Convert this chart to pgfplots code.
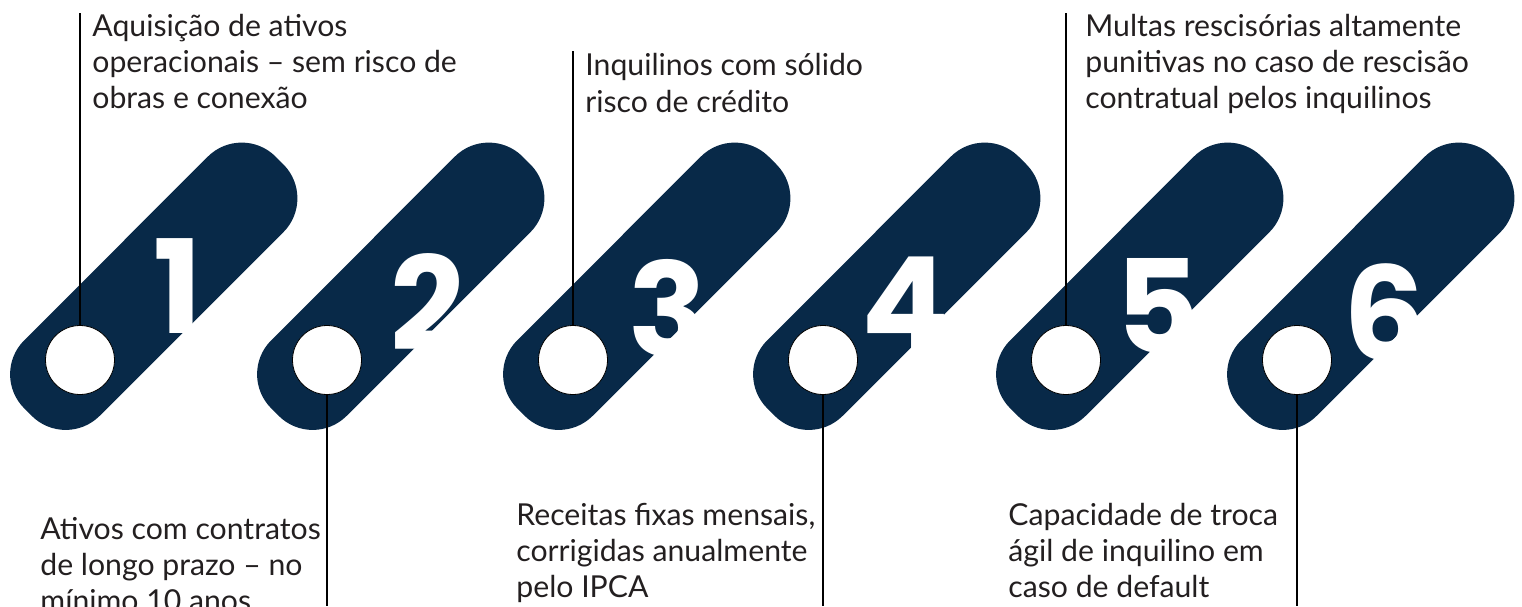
\documentclass[border=0pt]{standalone}
\usepackage{fontspec}
\setmainfont{Lato}
\newfontfamily\numfont{Poppins}[UprightFont=* Bold]
\usepackage{pgfplots}
\pgfplotsset{compat=1.18}
\definecolor{navy}{RGB}{8,41,72}
\definecolor{ink}{RGB}{35,31,32}

\newcommand{\txt}[3]{\node[anchor=base west, inner sep=0pt, text=ink,
  font=\fontsize{15.1}{18}\selectfont] at (axis cs:#1,#2) {#3};}
\newcommand{\num}[3]{\node[anchor=base, inner sep=0pt, text=white,
  font=\numfont\fontsize{65}{65}\selectfont] at (axis cs:#1,#2) {#3};}

\begin{document}
\begin{tikzpicture}
\begin{axis}[
    hide axis, scale only axis,
    x=0.5pt, y=0.5pt, y dir=reverse,
    xmin=0, xmax=1522, ymin=0, ymax=606,
    clip=false,
  ]
  % diagonal pills
  \addplot[fill=navy, draw=none, rounded corners=24pt] coordinates {(116,248.5) (241.7,122.7) (317.3,198.3) (65.7,449.8) (-9.8,374.3) (116,248.5)};
  \addplot[fill=navy, draw=none, rounded corners=24pt] coordinates {(363,248.5) (488.7,122.7) (564.3,198.3) (312.7,449.8) (237.2,374.3) (363,248.5)};
  \addplot[fill=navy, draw=none, rounded corners=24pt] coordinates {(609,248.5) (734.7,122.7) (810.3,198.3) (558.7,449.8) (483.2,374.3) (609,248.5)};
  \addplot[fill=navy, draw=none, rounded corners=24pt] coordinates {(859,248.5) (984.7,122.7) (1060.3,198.3) (808.7,449.8) (733.2,374.3) (859,248.5)};
  \addplot[fill=navy, draw=none, rounded corners=24pt] coordinates {(1102,248.5) (1227.7,122.7) (1303.3,198.3) (1051.7,449.8) (976.2,374.3) (1102,248.5)};
  \addplot[fill=navy, draw=none, rounded corners=24pt] coordinates {(1333,248.5) (1458.7,122.7) (1534.3,198.3) (1282.7,449.8) (1207.2,374.3) (1333,248.5)};

  % big numbers
  \num{178}{333}{1}
  \num{428}{350}{2}
  \num{668}{356}{3}
  \num{905}{350}{4}
  \num{1158}{353}{5}
  \num{1385}{360}{6}

  % white circles
  \addplot[only marks, mark=*, mark size=17.25pt, mark options={fill=white, draw=none}]
    coordinates {(80,360) (327,360) (573,360) (823,360) (1066,360) (1297,360)};

  % leader lines
  \addplot[black, line width=0.9pt] coordinates {(80,13) (80,326)};
  \addplot[black, line width=0.9pt] coordinates {(327,394) (327,606)};
  \addplot[black, line width=0.9pt] coordinates {(573,51) (573,326)};
  \addplot[black, line width=0.9pt] coordinates {(823,394) (823,606)};
  \addplot[black, line width=0.9pt] coordinates {(1066,13) (1066,326)};
  \addplot[black, line width=0.9pt] coordinates {(1297,394) (1297,606)};

  % texts
  \txt{92}{36}{Aquisição de ativos}
  \txt{92}{72}{operacionais – sem risco de}
  \txt{92}{108}{obras e conexão}

  \txt{40}{539}{Ativos com contratos}
  \txt{40}{575}{de longo prazo – no}
  \txt{40}{611}{mínimo 10 anos}

  \txt{585}{75}{Inquilinos com sólido}
  \txt{585}{112}{risco de crédito}

  \txt{516}{525}{Receitas fixas mensais,}
  \txt{516}{561}{corrigidas anualmente}
  \txt{516}{597}{pelo IPCA}

  \txt{1085}{36}{Multas rescisórias altamente}
  \txt{1085}{72}{punitivas no caso de rescisão}
  \txt{1085}{108}{contratual pelos inquilinos}

  \txt{1008}{525}{Capacidade de troca}
  \txt{1008}{561}{ágil de inquilino em}
  \txt{1008}{597}{caso de default}
\end{axis}
\pgfresetboundingbox
\path[use as bounding box] (current axis.south west) rectangle (current axis.north east);
\end{tikzpicture}
\end{document}
